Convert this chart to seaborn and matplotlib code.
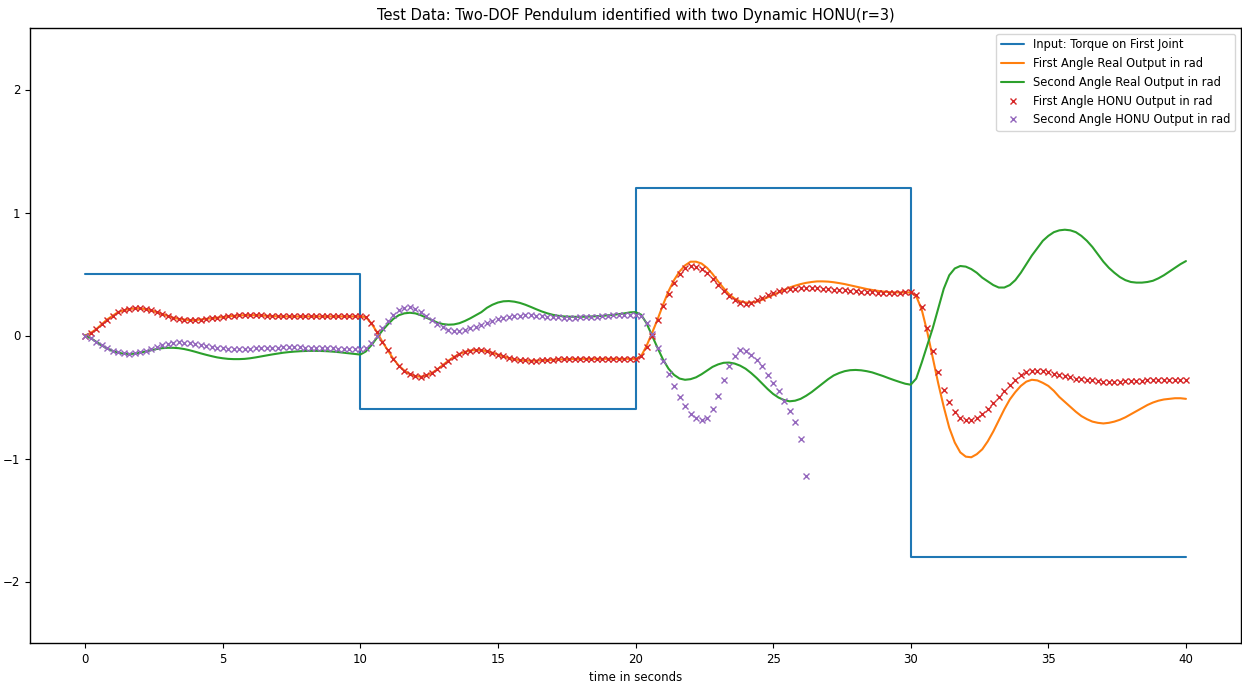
import numpy as np
import pandas as pd
import matplotlib
matplotlib.use("Agg")
import matplotlib.pyplot as plt
import seaborn as sns

# ---------------- data ----------------
title = "Test Data: Two-DOF Pendulum identified with two Dynamic HONU(r=3)"
x_label = "time in seconds"
labels = ["Input: Torque on First Joint",
          "First Angle Real Output in rad",
          "Second Angle Real Output in rad",
          "First Angle HONU Output in rad",
          "Second Angle HONU Output in rad"]

# step input (value held from each switch time)
switch_times = [0, 10, 20, 30, 40]
torque = [0.5, -0.6, 1.2, -1.8, -1.8]

sample_step = 0.2  # seconds between samples

first_real = [
    0.0, 0.02, 0.05, 0.09, 0.13, 0.16, 0.19, 0.205, 0.215, 0.22,
    0.22, 0.215, 0.205, 0.19, 0.175, 0.16, 0.145, 0.135, 0.13, 0.125,
    0.125, 0.13, 0.135, 0.14, 0.145, 0.15, 0.155, 0.16, 0.163, 0.165,
    0.165, 0.165, 0.163, 0.16, 0.158, 0.156, 0.155, 0.155, 0.155, 0.155,
    0.155, 0.155, 0.155, 0.155, 0.155, 0.155, 0.155, 0.155, 0.155, 0.155,
    0.155, 0.15, 0.10, 0.03, -0.05, -0.12, -0.19, -0.245, -0.285, -0.315,
    -0.33, -0.335, -0.325, -0.305, -0.275, -0.24, -0.205, -0.175, -0.15, -0.133,
    -0.122, -0.118, -0.12, -0.128, -0.14, -0.155, -0.17, -0.183, -0.193, -0.2,
    -0.203, -0.205, -0.204, -0.202, -0.2, -0.197, -0.195, -0.193, -0.192, -0.191,
    -0.19, -0.19, -0.19, -0.19, -0.19, -0.19, -0.19, -0.19, -0.19, -0.19,
    -0.19, -0.17, -0.085, 0.02, 0.13, 0.25, 0.36, 0.45, 0.52, 0.57,
    0.60, 0.60, 0.585, 0.55, 0.50, 0.44, 0.385, 0.335, 0.30, 0.278,
    0.268, 0.268, 0.275, 0.29, 0.31, 0.33, 0.35, 0.37, 0.39, 0.405,
    0.418, 0.428, 0.435, 0.44, 0.44, 0.438, 0.433, 0.426, 0.418, 0.408,
    0.398, 0.388, 0.378, 0.37, 0.363, 0.357, 0.353, 0.35, 0.35, 0.35,
    0.35, 0.32, 0.21, 0.03, -0.18, -0.39, -0.58, -0.75, -0.87, -0.95,
    -0.985, -0.99, -0.965, -0.925, -0.86, -0.78, -0.69, -0.60, -0.52, -0.46,
    -0.41, -0.375, -0.36, -0.365, -0.385, -0.41, -0.45, -0.50, -0.54, -0.58,
    -0.62, -0.655, -0.68, -0.70, -0.71, -0.715, -0.71, -0.70, -0.685, -0.665,
    -0.64, -0.615, -0.59, -0.565, -0.545, -0.53, -0.52, -0.515, -0.51, -0.51,
    -0.515,
]

second_real = [
    0.0, -0.02, -0.05, -0.08, -0.105, -0.125, -0.14, -0.148, -0.15, -0.148,
    -0.14, -0.13, -0.12, -0.11, -0.103, -0.1, -0.1, -0.103, -0.11, -0.12,
    -0.132, -0.145, -0.157, -0.168, -0.178, -0.185, -0.19, -0.192, -0.192, -0.19,
    -0.185, -0.178, -0.17, -0.162, -0.154, -0.147, -0.14, -0.135, -0.131, -0.128,
    -0.126, -0.125, -0.125, -0.126, -0.128, -0.131, -0.135, -0.14, -0.145, -0.15,
    -0.155, -0.13, -0.08, -0.02, 0.04, 0.09, 0.135, 0.165, 0.18, 0.185,
    0.18, 0.165, 0.145, 0.125, 0.105, 0.093, 0.088, 0.09, 0.1, 0.118,
    0.14, 0.165, 0.19, 0.225, 0.25, 0.268, 0.278, 0.28, 0.275, 0.265,
    0.25, 0.232, 0.213, 0.195, 0.18, 0.168, 0.16, 0.155, 0.153, 0.152,
    0.152, 0.153, 0.155, 0.157, 0.16, 0.164, 0.168, 0.174, 0.18, 0.188,
    0.19, 0.17, 0.10, 0.0, -0.10, -0.195, -0.27, -0.32, -0.35, -0.36,
    -0.355, -0.34, -0.315, -0.285, -0.255, -0.235, -0.222, -0.22, -0.228, -0.245,
    -0.27, -0.305, -0.345, -0.39, -0.435, -0.475, -0.505, -0.525, -0.535, -0.53,
    -0.515, -0.49, -0.46, -0.425, -0.39, -0.355, -0.325, -0.305, -0.29, -0.282,
    -0.28, -0.283, -0.29, -0.3, -0.315, -0.33, -0.347, -0.363, -0.378, -0.392,
    -0.40, -0.35, -0.22, -0.08, 0.06, 0.22, 0.38, 0.49, 0.545, 0.565,
    0.56, 0.54, 0.51, 0.47, 0.44, 0.41, 0.39, 0.39, 0.41, 0.45,
    0.51, 0.58, 0.65, 0.71, 0.77, 0.81, 0.84, 0.855, 0.86, 0.855,
    0.84, 0.81, 0.77, 0.72, 0.66, 0.60, 0.55, 0.51, 0.475, 0.45,
    0.435, 0.43, 0.43, 0.435, 0.445, 0.465, 0.49, 0.52, 0.55, 0.58,
    0.605,
]

first_honu = [
    0.0, 0.02, 0.05, 0.09, 0.13, 0.16, 0.19, 0.205, 0.215, 0.22,
    0.22, 0.215, 0.205, 0.19, 0.175, 0.16, 0.145, 0.135, 0.13, 0.125,
    0.125, 0.13, 0.135, 0.14, 0.145, 0.15, 0.155, 0.16, 0.163, 0.165,
    0.165, 0.165, 0.163, 0.16, 0.158, 0.156, 0.155, 0.155, 0.155, 0.155,
    0.155, 0.155, 0.155, 0.155, 0.155, 0.155, 0.155, 0.155, 0.155, 0.155,
    0.155, 0.15, 0.10, 0.03, -0.05, -0.12, -0.19, -0.245, -0.285, -0.315,
    -0.33, -0.335, -0.325, -0.305, -0.275, -0.24, -0.205, -0.175, -0.15, -0.133,
    -0.122, -0.118, -0.12, -0.128, -0.14, -0.155, -0.17, -0.183, -0.193, -0.2,
    -0.203, -0.205, -0.204, -0.202, -0.2, -0.197, -0.195, -0.193, -0.192, -0.191,
    -0.19, -0.19, -0.19, -0.19, -0.19, -0.19, -0.19, -0.19, -0.19, -0.19,
    -0.19, -0.17, -0.09, 0.0, 0.125, 0.24, 0.34, 0.43, 0.5, 0.545,
    0.565, 0.56, 0.54, 0.505, 0.46, 0.41, 0.36, 0.32, 0.29, 0.265,
    0.258, 0.265, 0.285, 0.307, 0.33, 0.347, 0.36, 0.372, 0.378, 0.382,
    0.385, 0.385, 0.385, 0.383, 0.38, 0.377, 0.373, 0.37, 0.366, 0.362,
    0.358, 0.355, 0.352, 0.35, 0.349, 0.348, 0.348, 0.348, 0.349, 0.35,
    0.35, 0.33, 0.23, 0.06, -0.13, -0.30, -0.44, -0.54, -0.62, -0.67,
    -0.69, -0.69, -0.67, -0.64, -0.60, -0.55, -0.50, -0.45, -0.40, -0.36,
    -0.32, -0.30, -0.29, -0.285, -0.29, -0.30, -0.31, -0.32, -0.33, -0.34,
    -0.35, -0.355, -0.36, -0.365, -0.37, -0.375, -0.375, -0.375, -0.375, -0.37,
    -0.37, -0.37, -0.37, -0.365, -0.365, -0.36, -0.36, -0.36, -0.36, -0.36,
    -0.36,
]

second_honu = [
    0.0, -0.02, -0.05, -0.08, -0.105, -0.125, -0.137, -0.145, -0.147, -0.143,
    -0.135, -0.122, -0.108, -0.093, -0.078, -0.066, -0.058, -0.055, -0.057, -0.063,
    -0.072, -0.081, -0.089, -0.096, -0.101, -0.105, -0.107, -0.108, -0.108, -0.107,
    -0.106, -0.104, -0.102, -0.1, -0.099, -0.098, -0.097, -0.097, -0.097, -0.097,
    -0.098, -0.099, -0.1, -0.101, -0.102, -0.104, -0.106, -0.108, -0.11, -0.112,
    -0.113, -0.1, -0.06, 0.0, 0.06, 0.12, 0.17, 0.205, 0.225, 0.228,
    0.215, 0.19, 0.16, 0.125, 0.095, 0.068, 0.048, 0.038, 0.038, 0.045,
    0.057, 0.072, 0.088, 0.103, 0.118, 0.131, 0.142, 0.151, 0.157, 0.161,
    0.163, 0.163, 0.161, 0.158, 0.154, 0.15, 0.147, 0.145, 0.145, 0.145,
    0.147, 0.149, 0.151, 0.154, 0.157, 0.16, 0.163, 0.166, 0.168, 0.168,
    0.165, 0.155, 0.1, 0.01, -0.1, -0.21, -0.31, -0.41, -0.5, -0.575,
    -0.635, -0.67, -0.684, -0.67, -0.6, -0.49, -0.36, -0.245, -0.163, -0.12,
    -0.128, -0.155, -0.2, -0.25, -0.32, -0.385, -0.453, -0.535, -0.61, -0.7,
    -0.84, -1.145,
]

colors = ["#1f77b4", "#ff7f0e", "#2ca02c", "#d62728", "#9467bd"]

# ---------------- figure ----------------
sns.set_style("ticks")
plt.rcParams["font.family"] = ["DejaVu Sans"]

W, H = 1242, 684
fig = plt.figure(figsize=(W / 100, H / 100), dpi=100)
ax = fig.add_axes([30 / W, 41 / H, 1211 / W, 615 / H])

t_full = np.round(np.arange(len(first_real)) * sample_step, 1)
t_second = t_full[:len(second_honu)]

sns.lineplot(x=switch_times, y=torque, ax=ax, color=colors[0], lw=1.5,
             drawstyle="steps-post", label=labels[0], sort=False, errorbar=None)
sns.lineplot(x=t_full, y=first_real, ax=ax, color=colors[1], lw=1.5,
             label=labels[1], errorbar=None)
sns.lineplot(x=t_full, y=second_real, ax=ax, color=colors[2], lw=1.5,
             label=labels[2], errorbar=None)
sns.lineplot(x=t_full, y=first_honu, ax=ax, color=colors[3], linestyle="none",
             marker="x", markersize=5, markeredgewidth=1.0,
             markeredgecolor=colors[3], markerfacecolor=colors[3],
             label=labels[3], errorbar=None)
sns.lineplot(x=t_second, y=second_honu, ax=ax, color=colors[4], linestyle="none",
             marker="x", markersize=5, markeredgewidth=1.0,
             markeredgecolor=colors[4], markerfacecolor=colors[4],
             label=labels[4], errorbar=None)

ax.set_xlim(-2, 42)
ax.set_ylim(-2.5, 2.5)
ax.set_xticks([0, 5, 10, 15, 20, 25, 30, 35, 40])
ax.set_yticks([-2, -1, 0, 1, 2])
ax.tick_params(labelsize=8.5, length=3.5, color="black", labelcolor="black")
for s in ax.spines.values():
    s.set_color("black")
    s.set_linewidth(1.0)
ax.set_xlabel(x_label, fontsize=8.5, color="black", labelpad=4)
ax.set_ylabel("")
ax.set_title(title, fontsize=10.5, color="black", pad=6)
leg = ax.legend(loc="upper right", fontsize=8.3, frameon=True, framealpha=0.8,
                edgecolor="#cccccc", fancybox=True)
for txt in leg.get_texts():
    txt.set_color("black")

fig.savefig("out.png", dpi=100)
